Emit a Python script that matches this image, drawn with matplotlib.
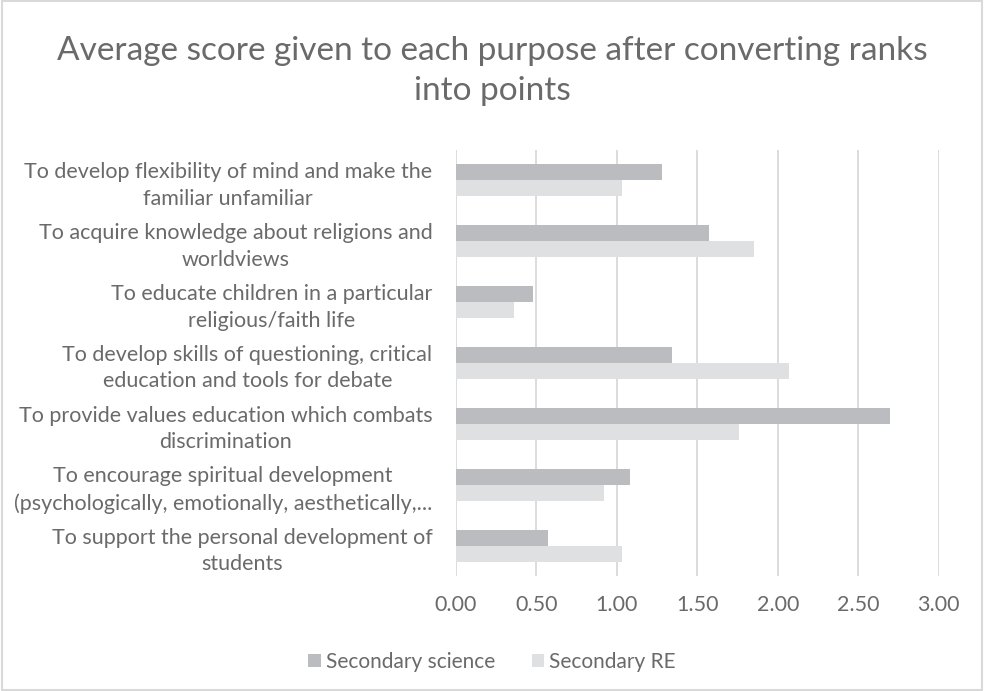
import numpy as np
import matplotlib
matplotlib.use("Agg")
import matplotlib.pyplot as plt
from matplotlib.patches import Rectangle

# categories from top to bottom as shown in the chart
purposes = [
    "To develop flexibility of mind and make the\nfamiliar unfamiliar",
    "To acquire knowledge about religions and\nworldviews",
    "To educate children in a particular\nreligious/faith life",
    "To develop skills of questioning, critical\neducation and tools for debate",
    "To provide values education which combats\ndiscrimination",
    "To encourage spiritual development\n(psychologically, emotionally, aesthetically,...",
    "To support the personal development of\nstudents",
]
science = [1.28, 1.57, 0.48, 1.34, 2.70, 1.08, 0.57]
re_scores = [1.03, 1.85, 0.36, 2.07, 1.76, 0.92, 1.03]
series_names = ["Secondary science", "Secondary RE"]
xticks = [0.0, 0.5, 1.0, 1.5, 2.0, 2.5, 3.0]

plt.rcParams['font.family'] = ['Lato', 'DejaVu Sans']
txt = '#6a6a6a'
c_sci = '#bbbcc0'
c_re = '#dfe0e2'

fig = plt.figure(figsize=(9.84, 6.91), dpi=100)
ax = fig.add_axes([0.4634, 0.1664, 0.4906, 0.6166])

y = np.arange(len(purposes))
h = 0.263
ax.barh(y - h / 2, science, height=h, color=c_sci, label=series_names[0], zorder=2)
ax.barh(y + h / 2, re_scores, height=h, color=c_re, label=series_names[1], zorder=2)

ax.set_xlim(0, 3)
ax.set_ylim(len(purposes) - 0.5, -0.5)
ax.set_xticks(xticks)
ax.set_xticklabels(["%.2f" % v for v in xticks], fontsize=15.5, color=txt)
ax.set_yticks(y)
ax.set_yticklabels(purposes, fontsize=15.5, color=txt, ma='center', linespacing=1.4)
ax.tick_params(axis='both', length=0)
ax.tick_params(axis='y', pad=17)
ax.tick_params(axis='x', pad=14)
ax.grid(axis='x', color='#d9d9d9', linewidth=1.3, zorder=0)
for s in ax.spines.values():
    s.set_visible(False)

fig.text(0.5, 0.897, "Average score given to each purpose after converting ranks\ninto points",
         ha='center', va='center', fontsize=24, color=txt, linespacing=1.4)

fig.legend(loc='center', bbox_to_anchor=(0.5, 0.042), ncol=2, frameon=False,
           fontsize=15, labelcolor=txt, handlelength=0.6, handleheight=0.6,
           handletextpad=0.25, columnspacing=1.75)

# light border round the chart area
fig.patches.append(Rectangle((0.002, 0.002), 0.996, 0.996, transform=fig.transFigure,
                             fill=False, edgecolor='#d9d9d9', linewidth=1.5))

fig.savefig("out.png", dpi=100)
